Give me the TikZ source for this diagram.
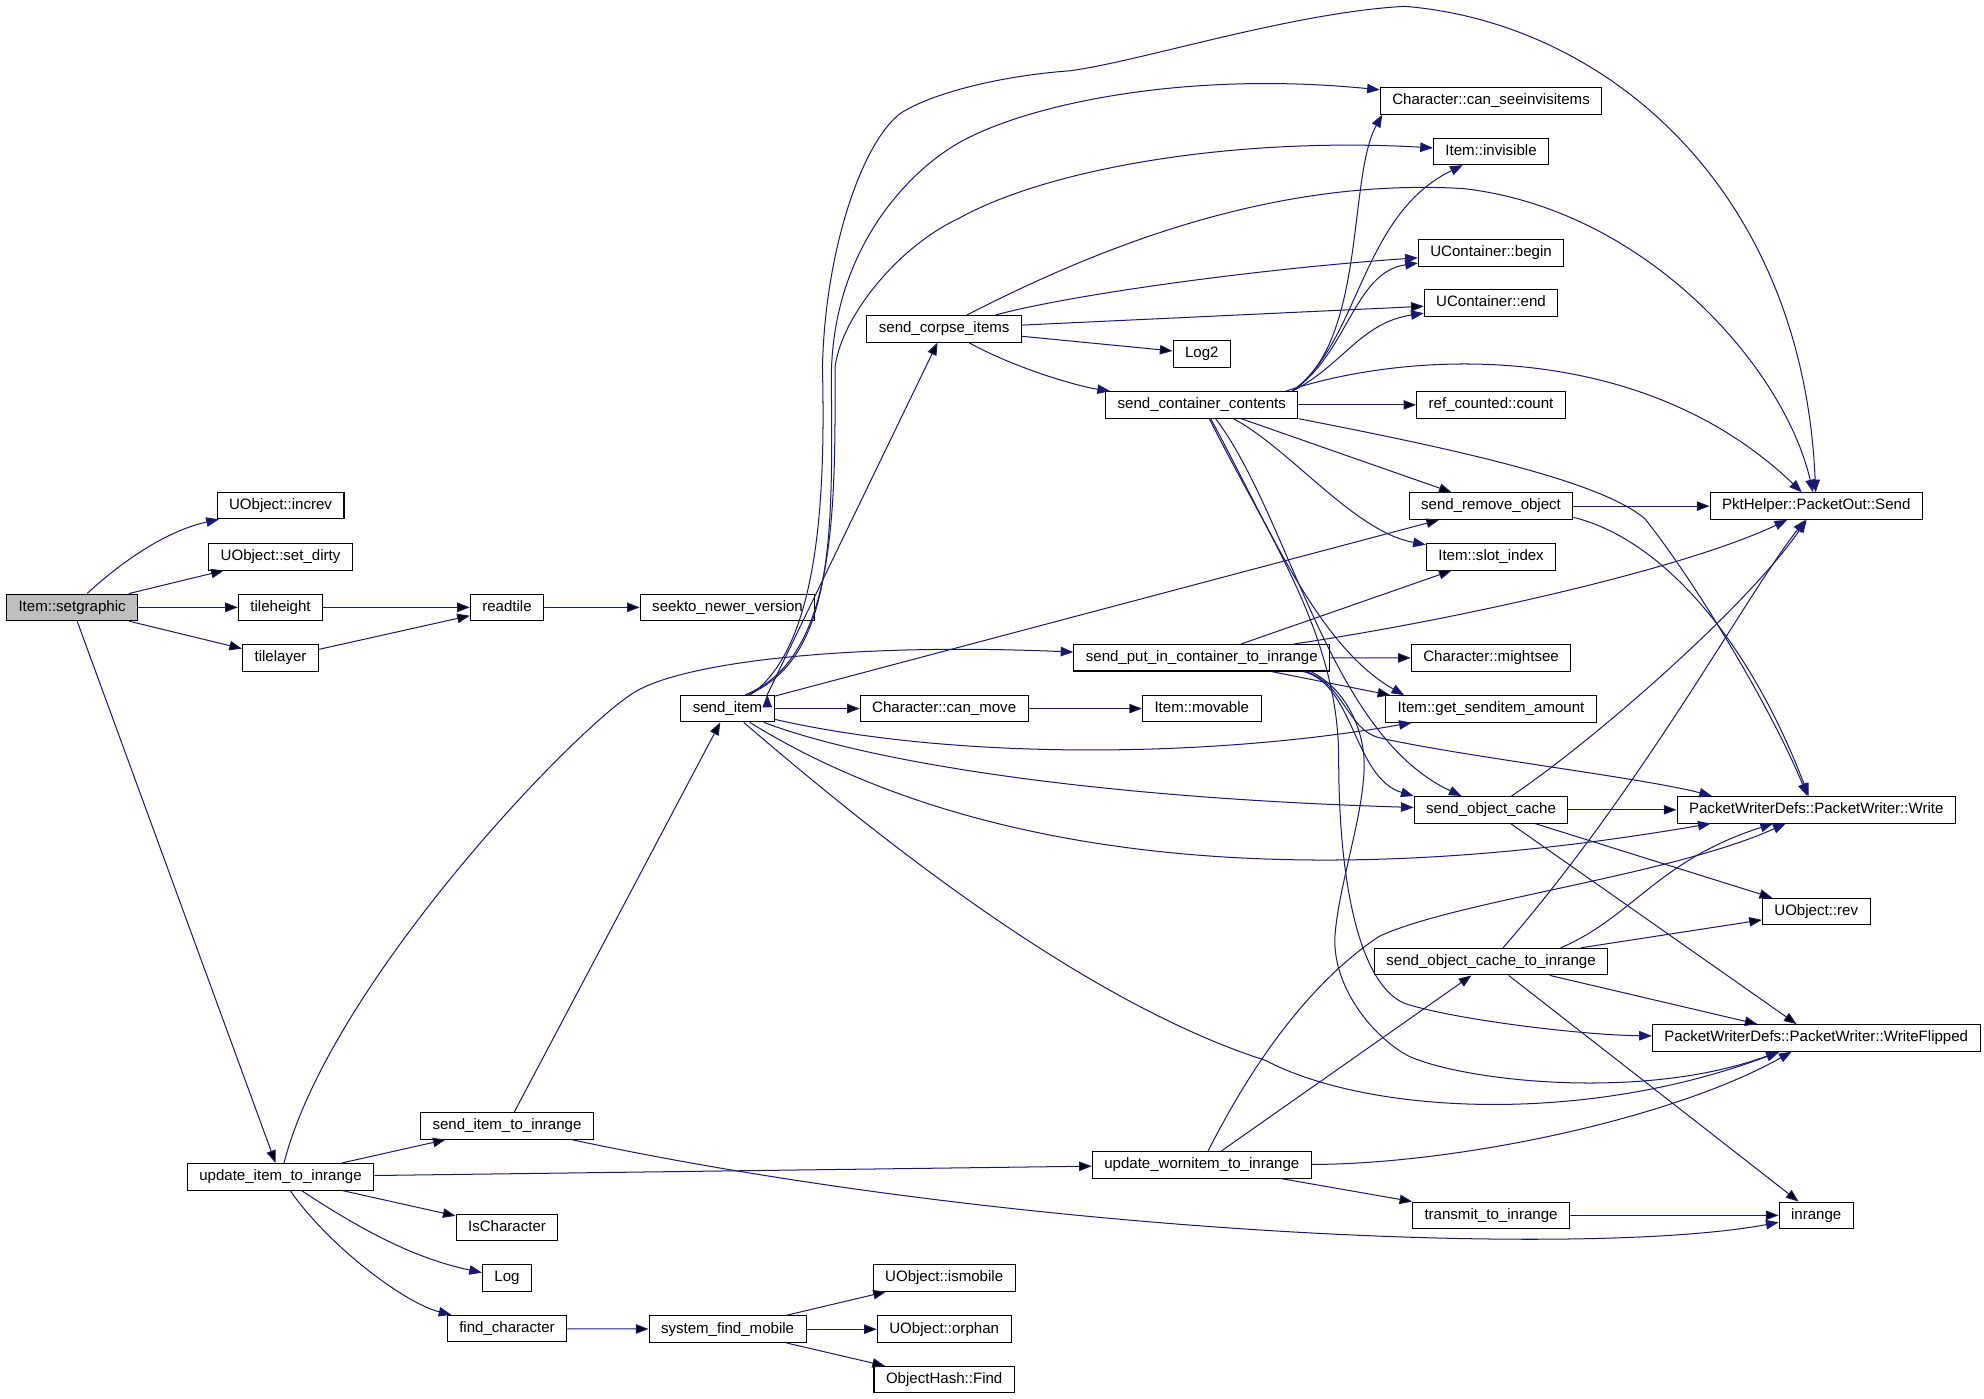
\documentclass[tikz,border=0pt]{standalone}
\usepackage{fontspec}
\setmainfont{Liberation Sans}
\usetikzlibrary{arrows.meta}
\definecolor{callblue}{RGB}{25,25,112}
\definecolor{rootgray}{RGB}{191,191,191}

\begin{document}
\begin{tikzpicture}[x=1pt, y=-1pt, >={Triangle[length=10pt, width=7.5pt]}]
	\tikzstyle{box} = [draw=black, line width=0.8pt, rectangle, minimum height=21pt, inner xsep=9.5pt, inner ysep=0pt, text height=8.6pt, text depth=2.6pt, font=\fontsize{11.9pt}{13pt}\selectfont]
	\tikzstyle{call} = [->, draw=callblue, line width=0.8pt]

	\fill[white] (0, 0) rectangle (1568, 1105);
	\useasboundingbox (0, 0) rectangle (1568, 1105);

	\node[box, fill=rootgray] at (57, 480) (setgraphic) {Item::setgraphic};

	\node[box] at (221.7, 399.5) (increv) {UObject::increv};
	\node[box] at (221.7, 440) (setdirty) {UObject::set\_dirty};
	\node[box] at (221.7, 480) (tileheight) {tileheight};
	\node[box] at (221.7, 520) (tilelayer) {tilelayer};
	\node[box] at (221.7, 930) (updateitem) {update\_item\_to\_inrange};

	\node[box] at (400.7, 480) (readtile) {readtile};
	\node[box] at (400.7, 889.8) (senditeminr) {send\_item\_to\_inrange};
	\node[box] at (400.7, 970) (ischaracter) {IsCharacter};
	\node[box] at (400.7, 1010) (log) {Log};
	\node[box] at (400.7, 1050) (findchar) {find\_character};

	\node[box] at (575, 480) (seekto) {seekto\_newer\_version};
	\node[box] at (575, 560) (senditem) {send\_item};
	\node[box] at (575, 1050.5) (sysfind) {system\_find\_mobile};

	\node[box] at (746.2, 259.8) (corpse) {send\_corpse\_items};
	\node[box] at (746.2, 560) (canmove) {Character::can\_move};
	\node[box] at (746.2, 1010) (ismobile) {UObject::ismobile};
	\node[box] at (746.2, 1050.5) (orphan) {UObject::orphan};
	\node[box] at (746.2, 1090.4) (hashfind) {ObjectHash::Find};

	\node[box] at (949.8, 279.6) (logtwo) {Log2};
	\node[box] at (949.8, 320) (contents) {send\_container\_contents};
	\node[box] at (949.8, 519.8) (putin) {send\_put\_in\_container\_to\_inrange};
	\node[box] at (949.8, 560) (movable) {Item::movable};
	\node[box] at (949.8, 920.5) (wornitem) {update\_wornitem\_to\_inrange};

	\node[box] at (1178.4, 79.7) (canseeinv) {Character::can\_seeinvisitems};
	\node[box] at (1178.4, 119.6) (invisible) {Item::invisible};
	\node[box] at (1178.4, 199.8) (ubegin) {UContainer::begin};
	\node[box] at (1178.4, 239.6) (uend) {UContainer::end};
	\node[box] at (1178.4, 320) (refcount) {ref\_counted::count};
	\node[box] at (1178.4, 400) (removeobj) {send\_remove\_object};
	\node[box] at (1178.4, 440) (slotindex) {Item::slot\_index};
	\node[box] at (1178.4, 520) (mightsee) {Character::mightsee};
	\node[box] at (1178.4, 560.3) (senditemamt) {Item::get\_senditem\_amount};
	\node[box] at (1178.4, 640) (objcache) {send\_object\_cache};
	\node[box] at (1178.4, 760) (cachein) {send\_object\_cache\_to\_inrange};
	\node[box] at (1178.4, 960.5) (transmit) {transmit\_to\_inrange};

	\node[box] at (1435.4, 400) (pktsend) {PktHelper::PacketOut::Send};
	\node[box] at (1435.4, 640) (pwwrite) {PacketWriterDefs::PacketWriter::Write};
	\node[box] at (1435.4, 720.4) (uobjrev) {UObject::rev};
	\node[box] at (1435.4, 820.3) (pwflipped) {PacketWriterDefs::PacketWriter::WriteFlipped};
	\node[box] at (1435.4, 960.5) (inrange) {inrange};

	\path[call]
	(setgraphic) edge (setdirty)
	(setgraphic) edge (tileheight)
	(setgraphic) edge (tilelayer)
	(setgraphic) edge (updateitem)
	(tileheight) edge (readtile)
	(tilelayer) edge (readtile)
	(readtile) edge (seekto)
	(updateitem) edge (senditeminr)
	(updateitem) edge (wornitem)
	(updateitem) edge (ischaracter)
	(findchar) edge (sysfind)
	(sysfind) edge (ismobile)
	(sysfind) edge (orphan)
	(sysfind) edge (hashfind)
	(senditeminr) edge (senditem)
	(senditem) edge (canmove)
	(canmove) edge (movable)
	([xshift=-6pt]senditem.north east) edge (corpse)
	(senditem) edge (removeobj)
	(corpse) edge (uend)
	(corpse) edge (logtwo)
	(contents) edge (refcount)
	(contents) edge (removeobj)
	(removeobj) edge (pktsend)
	(putin) edge (slotindex)
	(putin) edge (mightsee)
	(putin) edge ([xshift=4pt]senditemamt.north west)
	(objcache) edge (pwwrite)
	(objcache) edge (uobjrev)
	(objcache) edge (pwflipped)
	(cachein) edge (uobjrev)
	(cachein) edge (pwflipped)
	(cachein) edge (inrange)
	(wornitem) edge (cachein)
	(wornitem) edge (transmit)
	(transmit) edge (inrange);

	\draw[call] (setgraphic) .. controls (95, 445) and (130, 420) .. (increv);
	\draw[call] (updateitem) .. controls (290, 975) and (330, 995) .. (log);
	\draw[call] (updateitem) .. controls (260, 985) and (320, 1030) .. (findchar);
	\draw[call] (updateitem) .. controls (260, 780) and (450, 580) .. (500, 548)
		.. controls (540, 522) and (680, 508) .. (putin);
	\draw[call] (senditeminr) .. controls (800, 975) and (1250, 995) .. (inrange);

	\draw[call] (senditem) .. controls (750, 600) and (950, 600) .. (senditemamt);
	\draw[call] (senditem) .. controls (680, 600) and (850, 630) .. (objcache);
	\draw[call] (senditem) .. controls (720, 650) and (950, 720) .. ([xshift=27pt]pwwrite.south west);
	\draw[call] (senditem) .. controls (680, 650) and (850, 790) .. (1000, 838)
		.. controls (1080, 880) and (1250, 890) .. (pwflipped);
	\draw[call] ([xshift=18pt]senditem.north) .. controls (650, 510) and (652, 380) .. (650, 290)
		.. controls (652, 200) and (680, 115) .. (711, 90)
		.. controls (735, 74) and (790, 60) .. (845, 56)
		.. controls (900, 49) and (1020, 10) .. (1110, 5)
		.. controls (1270, 18) and (1425, 150) .. (pktsend);
	\draw[call] ([xshift=16pt]senditem.north) .. controls (660, 520) and (658, 420) .. (657, 300)
		.. controls (657, 200) and (715, 140) .. (751, 117)
		.. controls (800, 85) and (930, 55) .. (canseeinv);
	\draw[call] ([xshift=14pt]senditem.north) .. controls (662, 520) and (660, 400) .. (660, 290)
		.. controls (665, 250) and (710, 195) .. (757, 173)
		.. controls (830, 132) and (980, 108) .. (invisible);

	\draw[call] (corpse) .. controls (850, 232) and (1000, 212) .. (ubegin);
	\draw[call] (corpse) .. controls (800, 290) and (850, 305) .. (contents);
	\draw[call] ([xshift=18pt]corpse.north) .. controls (860, 200) and (1000, 140) .. (1156, 149)
		.. controls (1300, 165) and (1410, 290) .. (pktsend);

	\draw[call] ([xshift=-5pt]contents.north east) .. controls (1080, 270) and (1065, 140) .. ([xshift=2pt]canseeinv.south west);
	\draw[call] ([xshift=-5pt]contents.north east) .. controls (1075, 270) and (1075, 170) .. (invisible);
	\draw[call] ([xshift=-5pt]contents.north east) .. controls (1065, 280) and (1070, 215) .. (ubegin);
	\draw[call] ([xshift=-5pt]contents.north east) .. controls (1060, 290) and (1075, 255) .. (uend);
	\draw[call] ([xshift=-10pt]contents.north east) .. controls (1120, 275) and (1300, 270) .. (pktsend);
	\draw[call] ([xshift=25pt]contents.south) .. controls (1020, 355) and (1070, 420) .. (slotindex);
	\draw[call] ([xshift=7pt]contents.south) .. controls (1000, 410) and (1040, 510) .. ([xshift=15pt]senditemamt.north west);
	\draw[call] ([xshift=11pt]contents.south) .. controls (1020, 410) and (1050, 580) .. (objcache);
	\draw[call] ([xshift=6pt]contents.south) .. controls (1000, 420) and (1058, 500) .. (1058, 600)
		.. controls (1058, 700) and (1075, 778) .. (1110, 793)
		.. controls (1150, 806) and (1250, 818) .. (pwflipped);
	\draw[call] (contents.south east) .. controls (1150, 355) and (1265, 380) .. (1300, 410)
		.. controls (1340, 460) and (1400, 560) .. ([xshift=-7pt]pwwrite.north);

	\draw[call] ([yshift=2pt]removeobj.south east) .. controls (1310, 425) and (1380, 500) .. ([xshift=-6pt]pwwrite.north);

	\draw[call] (putin) .. controls (1150, 490) and (1330, 450) .. (pktsend);
	\draw[call] ([xshift=80pt]putin.south) .. controls (1070, 540) and (1070, 615) .. (objcache.north west);
	\draw[call] ([xshift=82pt]putin.south) .. controls (1062, 540) and (1065, 577) .. (1090, 583)
		.. controls (1150, 597) and (1300, 615) .. ([xshift=28pt]pwwrite.north west);
	\draw[call] ([xshift=86pt]putin.south) .. controls (1065, 545) and (1080, 580) .. (1078, 610)
		.. controls (1076, 650) and (1058, 700) .. (1055, 740)
		.. controls (1053, 780) and (1085, 820) .. (1114, 835)
		.. controls (1160, 855) and (1300, 870) .. (pwflipped);

	\draw[call] (objcache) .. controls (1260, 585) and (1380, 480) .. (pktsend);
	\draw[call] (cachein) .. controls (1300, 620) and (1380, 470) .. (pktsend);
	\draw[call] ([xshift=55pt]cachein.north) .. controls (1290, 725) and (1310, 680) .. (pwwrite);

	\draw[call] ([xshift=5pt]wornitem.north) .. controls (985, 850) and (1030, 780) .. (1090, 740)
		.. controls (1150, 712) and (1320, 692) .. (pwwrite);
	\draw[call] (wornitem) .. controls (1150, 920) and (1320, 885) .. (pwflipped);
\end{tikzpicture}
\end{document}
